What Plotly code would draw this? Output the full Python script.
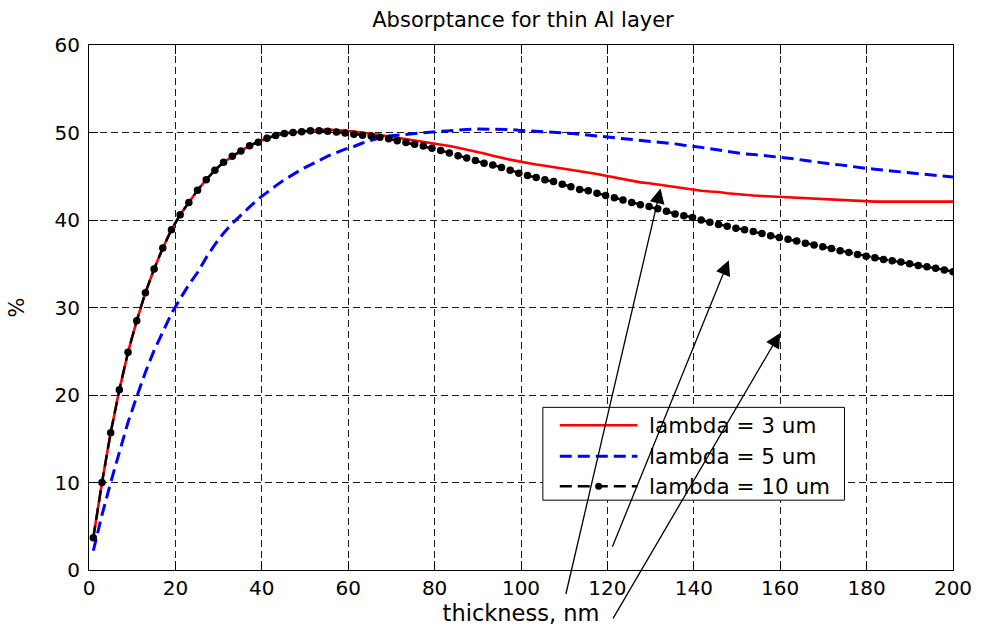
import numpy as np
import plotly.graph_objects as go

# Layer thickness grid (nm)
thickness = np.linspace(1, 200, 100)

# Absorptance (%) for each wavelength
absorb_3um = [
    3.7, 10.0, 15.7, 20.6, 24.9, 28.5, 31.7, 34.4, 36.8, 38.9,
    40.6, 42.0, 43.4, 44.6, 45.7, 46.6, 47.3, 47.9, 48.5, 48.9,
    49.35, 49.65, 49.9, 50.0, 50.1, 50.25, 50.3, 50.35, 50.3, 50.2,
    50.1, 50.0, 49.85, 49.7, 49.55, 49.4, 49.25, 49.1, 48.95, 48.8,
    48.6, 48.45, 48.25, 48.05, 47.8, 47.6, 47.35, 47.1, 46.9, 46.7,
    46.5, 46.35, 46.2, 46.05, 45.9, 45.75, 45.6, 45.45, 45.25, 45.05,
    44.85, 44.65, 44.45, 44.3, 44.2, 44.05, 43.9, 43.75, 43.6, 43.5,
    43.35, 43.25, 43.2, 43.05, 42.95, 42.9, 42.8, 42.75, 42.7, 42.6,
    42.55, 42.55, 42.45, 42.4, 42.35, 42.35, 42.3, 42.2, 42.15, 42.1,
    42.1, 42.1, 42.1, 42.1, 42.1, 42.1, 42.1, 42.1, 42.1, 42.1,
]
absorb_5um = [
    2.2, 6.3, 10.0, 13.5, 16.9, 19.8, 22.6, 25.1, 27.3, 29.3,
    31.0, 32.6, 34.0, 35.7, 37.2, 38.5, 39.6, 40.6, 41.5, 42.4,
    43.2, 43.9, 44.6, 45.2, 45.8, 46.3, 46.8, 47.3, 47.7, 48.1,
    48.4, 48.8, 49.1, 49.4, 49.6, 49.7, 49.8, 49.9, 50.0, 50.1,
    50.15, 50.2, 50.3, 50.35, 50.4, 50.4, 50.4, 50.4, 50.35, 50.25,
    50.2, 50.15, 50.1, 50.0, 49.95, 49.9, 49.8, 49.7, 49.6, 49.5,
    49.4, 49.35, 49.2, 49.1, 49.0, 48.9, 48.8, 48.7, 48.55, 48.45,
    48.3, 48.15, 48.0, 47.8, 47.65, 47.55, 47.5, 47.4, 47.3, 47.2,
    47.1, 46.95, 46.8, 46.65, 46.5, 46.4, 46.3, 46.15, 46.0, 45.9,
    45.8, 45.7, 45.55, 45.45, 45.35, 45.25, 45.15, 45.05, 44.95, 44.9,
]
absorb_10um = [
    3.7, 10.0, 15.7, 20.6, 24.9, 28.5, 31.7, 34.4, 36.8, 38.9,
    40.6, 42.0, 43.4, 44.6, 45.7, 46.6, 47.3, 47.9, 48.5, 48.9,
    49.35, 49.65, 49.9, 50.0, 50.1, 50.2, 50.2, 50.15, 50.05, 49.95,
    49.8, 49.7, 49.6, 49.45, 49.3, 49.05, 48.85, 48.65, 48.45, 48.2,
    47.95, 47.65, 47.35, 47.1, 46.8, 46.5, 46.3, 46.0, 45.7, 45.35,
    45.1, 44.85, 44.6, 44.4, 44.1, 43.8, 43.5, 43.35, 43.05, 42.8,
    42.55, 42.3, 42.0, 41.75, 41.55, 41.3, 41.0, 40.7, 40.5, 40.3,
    40.0, 39.75, 39.5, 39.3, 39.05, 38.9, 38.7, 38.45, 38.2, 38.0,
    37.8, 37.6, 37.35, 37.15, 36.95, 36.75, 36.5, 36.3, 36.05, 35.85,
    35.7, 35.5, 35.35, 35.2, 35.0, 34.8, 34.65, 34.5, 34.3, 34.1,
]

series_names = ["lambda = 3 um", "lambda = 5 um", "lambda = 10 um"]
x_ticks = [0, 20, 40, 60, 80, 100, 120, 140, 160, 180, 200]
y_ticks = [0, 10, 20, 30, 40, 50, 60]

FONT = "DejaVu Sans"
RED = "#ff0000"
BLUE = "#0000ff"
BLACK = "#000000"

fig = go.Figure()
fig.add_trace(go.Scatter(
    x=thickness, y=absorb_3um, mode="lines", name=series_names[0],
    line=dict(color=RED, width=2.6), showlegend=False,
))
fig.add_trace(go.Scatter(
    x=thickness, y=absorb_5um, mode="lines", name=series_names[1],
    line=dict(color=BLUE, width=3, dash="12px,6px"), showlegend=False,
))
fig.add_trace(go.Scatter(
    x=thickness, y=absorb_10um, mode="lines+markers", name=series_names[2],
    line=dict(color=BLACK, width=2.4, dash="12px,6px"),
    marker=dict(color=BLACK, size=7.5, symbol="circle"), showlegend=False,
))

axis_common = dict(
    showline=True, linecolor=BLACK, linewidth=1, mirror="ticks",
    ticks="inside", ticklen=9, tickwidth=1, tickcolor=BLACK,
    showgrid=True, gridcolor="#1a1a1a", gridwidth=1, griddash="7px,4px",
    zeroline=False, tickfont=dict(family=FONT, size=20, color=BLACK),
)

fig.update_xaxes(
    range=[0, 200], tickvals=x_ticks, ticktext=[str(v) for v in x_ticks],
    title=dict(text="thickness, nm", font=dict(family=FONT, size=22.5, color=BLACK), standoff=1),
    **axis_common,
)
fig.update_yaxes(
    range=[0, 60], tickvals=y_ticks, ticktext=[str(v) for v in y_ticks],
    title=dict(text="%", font=dict(family=FONT, size=21, color=BLACK), standoff=24),
    ticklabelstandoff=4,
    **axis_common,
)

# Legend box drawn in paper coordinates
legend_left, legend_right = 0.5253, 0.8744
legend_top, legend_bottom = 0.3098, 0.133
row_y = [0.2756, 0.2166, 0.1596]
sample_x0, sample_x1 = 0.5449, 0.6348
text_x = 0.6463

shapes = [dict(
    type="rect", xref="paper", yref="paper",
    x0=legend_left, x1=legend_right, y0=legend_bottom, y1=legend_top,
    line=dict(color=BLACK, width=1), fillcolor="white", layer="above",
)]
sample_styles = [
    dict(color=RED, width=2.6),
    dict(color=BLUE, width=3, dash="12px,6px"),
    dict(color=BLACK, width=2.4, dash="12px,6px"),
]
for yy, st in zip(row_y, sample_styles):
    shapes.append(dict(
        type="line", xref="paper", yref="paper",
        x0=sample_x0, x1=sample_x1, y0=yy, y1=yy, line=st, layer="above",
    ))
mid = (sample_x0 + sample_x1) / 2
shapes.append(dict(
    type="circle", xref="paper", yref="paper", xsizemode="pixel", ysizemode="pixel",
    xanchor=mid, yanchor=row_y[2], x0=-3.5, x1=3.5, y0=-3.5, y1=3.5,
    fillcolor=BLACK, line=dict(color=BLACK, width=0), layer="above",
))

annotations = []
for yy, name in zip(row_y, series_names):
    annotations.append(dict(
        xref="paper", yref="paper", x=text_x, y=yy, text=name, showarrow=False,
        xanchor="left", yanchor="middle", font=dict(family=FONT, size=21.5, color=BLACK),
    ))

# Arrows pointing at the curves from below the axis
arrow_heads = [(132.3, 43.6, -95, 407), (148.1, 35.4, -117, 288), (160.0, 27.1, -168, 287)]
for hx, hy, ax, ay in arrow_heads:
    annotations.append(dict(
        xref="x", yref="y", x=hx, y=hy, ax=ax, ay=ay, text="",
        showarrow=True, arrowhead=2, arrowsize=2.3, arrowwidth=1.3, arrowcolor=BLACK,
    ))

fig.update_layout(
    width=984, height=629,
    margin=dict(l=89, r=27, t=45, b=58),
    paper_bgcolor="white", plot_bgcolor="white",
    title=dict(
        text="Absorptance for thin Al layer", x=0.5315, xanchor="center",
        y=1 - 20 / 629, yref="container", yanchor="middle",
        font=dict(family=FONT, size=21, color=BLACK),
    ),
    shapes=shapes, annotations=annotations, showlegend=False,
)

fig.write_html("out.html")
